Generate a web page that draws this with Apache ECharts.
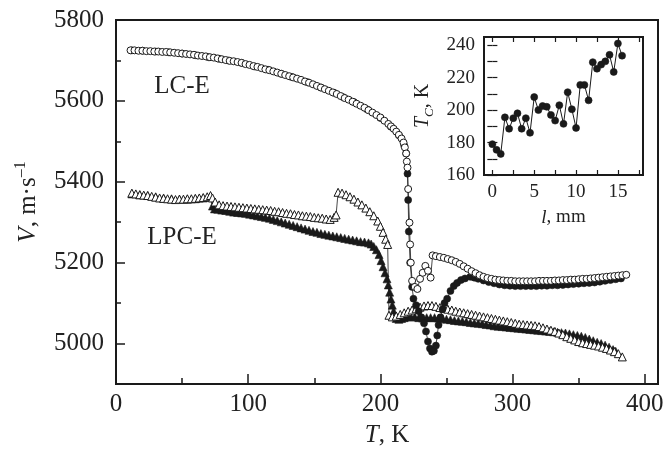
<!DOCTYPE html>
<html>
<head>
<meta charset="utf-8">
<script src="https://cdn.jsdelivr.net/npm/echarts@6/dist/echarts.min.js"></script>
<style>
  html, body { margin: 0; padding: 0; background: #fff; }
  #chart { width: 669px; height: 453px; }
</style>
</head>
<body>
<div id="chart"></div>
<script>
// tick labels
const xTicks = [0, 100, 200, 300, 400];
const xMinorTicks = [50, 150, 250, 350];
const yTicks = [5000, 5200, 5400, 5600, 5800];
const yMinorTicks = [5100, 5300, 5500, 5700];
const insetXTicks = [0, 5, 10, 15];
const insetXMinor = [0, 2.5, 5, 7.5, 10, 12.5, 15, 17.5];
const insetYTicks = [160, 180, 200, 220, 240];
const insetYMinor = [160, 170, 180, 190, 200, 210, 220, 230, 240];

// LC-E, open circles [T, V]
const lcOpen = [
  [11, 5725], [14, 5725], [17, 5724], [20, 5724], [23, 5723], [26, 5723], [29, 5722], [32, 5722],
  [35, 5721], [38, 5721], [41, 5720], [44, 5719], [47, 5718], [50, 5717], [53, 5716], [56, 5715],
  [59, 5714], [62, 5712], [65, 5711], [68, 5710], [71, 5708], [74, 5707], [77, 5705], [80, 5703],
  [83, 5701], [86, 5699], [89, 5698], [92, 5696], [95, 5694], [98, 5691], [101, 5689], [104, 5686],
  [107, 5684], [110, 5681], [113, 5678], [116, 5676], [119, 5673], [122, 5670], [125, 5667], [128, 5664],
  [131, 5661], [134, 5658], [137, 5655], [140, 5652], [143, 5648], [146, 5645], [149, 5641], [152, 5637],
  [155, 5633], [158, 5629], [161, 5625], [164, 5621], [167, 5617], [170, 5612], [173, 5607], [176, 5603],
  [179, 5598], [182, 5593], [185, 5588], [188, 5583], [191, 5577], [194, 5571], [197, 5565], [200, 5559],
  [203, 5551], [206, 5543], [208, 5537], [210, 5531], [212, 5524], [214, 5516], [216, 5507], [217.5, 5497],
  [218.5, 5485], [219.5, 5470], [220, 5450], [220.5, 5435], [221, 5382], [222, 5299], [222.5, 5245],
  [223, 5200], [224, 5155], [226, 5140], [228, 5135], [230, 5160], [232, 5175], [234, 5192], [236, 5180],
  [238, 5163], [239.5, 5218], [242, 5216], [245, 5214], [248, 5212], [251, 5209], [254, 5206], [257, 5202],
  [260, 5197], [263, 5191], [266, 5185], [269, 5179], [272, 5174], [275, 5169], [278, 5165], [281, 5162],
  [284, 5160], [287, 5158], [290, 5157], [293, 5156], [296, 5155], [299, 5155], [302, 5154], [305, 5154],
  [308, 5154], [311, 5154], [314, 5154], [317, 5154], [320, 5155], [323, 5155], [326, 5155], [329, 5155],
  [332, 5156], [335, 5156], [338, 5157], [341, 5157], [344, 5158], [347, 5158], [350, 5159], [353, 5160],
  [356, 5160], [359, 5161], [362, 5162], [365, 5163], [368, 5164], [371, 5165], [374, 5166], [377, 5167],
  [380, 5168], [383, 5169], [386, 5170]
];

// LC-E, filled circles [T, V]
const lcFilled = [
  [12, 5725], [20, 5724], [30, 5722], [40, 5720], [50, 5717], [60, 5713], [70, 5708], [78, 5704],
  [85, 5700], [95, 5694], [105, 5685], [115, 5677], [125, 5667], [133, 5659], [145, 5646], [155, 5633],
  [165, 5620], [172, 5609], [180, 5597], [190, 5579], [200, 5558], [208, 5536], [214, 5515], [218, 5490],
  [219.5, 5470], [220.5, 5420], [221, 5355], [221.5, 5277], [222.5, 5200], [224, 5140], [225, 5111],
  [227, 5095], [229, 5080], [231, 5065], [233, 5050], [234.5, 5030], [236, 5005], [237.5, 4988], [239, 4980],
  [240.5, 4982], [242, 4995], [243, 5020], [244, 5046], [245.5, 5065], [247, 5085], [248.5, 5100], [250.5, 5111],
  [253, 5130], [255.5, 5142], [258, 5150], [261, 5157], [264, 5161], [268, 5165], [271, 5163], [274, 5160],
  [278, 5156], [282, 5152], [286, 5149], [290, 5146], [294, 5144], [298, 5143], [302, 5142], [306, 5142],
  [310, 5142], [314, 5142], [318, 5142], [322, 5143], [326, 5143], [330, 5144], [334, 5144], [338, 5145],
  [342, 5146], [346, 5147], [350, 5148], [354, 5149], [358, 5150], [362, 5151], [366, 5153], [370, 5155],
  [374, 5157], [378, 5159], [382, 5161]
];

// LPC-E, open triangles [T, V]
const lpcOpen = [
  [12, 5372], [15, 5370], [18, 5368], [21, 5367], [24, 5366], [27, 5364], [30, 5362], [33, 5360],
  [36, 5359], [39, 5358], [42, 5357], [45, 5356], [48, 5357], [51, 5357], [54, 5358], [57, 5358],
  [60, 5359], [63, 5360], [66, 5361], [69, 5363], [71.5, 5366], [73, 5360], [75, 5350], [78, 5343],
  [81, 5341], [84, 5340], [87, 5339], [90, 5338], [93, 5337], [96, 5336], [99, 5335], [102, 5334],
  [105, 5333], [108, 5332], [111, 5331], [114, 5330], [117, 5329], [120, 5327], [123, 5326], [126, 5324],
  [129, 5322], [132, 5321], [135, 5319], [138, 5318], [141, 5316], [144, 5315], [147, 5314], [150, 5312],
  [153, 5311], [156, 5310], [159, 5308], [162, 5307], [165, 5312], [166.5, 5318], [168, 5374], [171, 5372],
  [174, 5368], [177, 5363], [180, 5357], [183, 5350], [186, 5343], [189, 5335], [192, 5326], [195, 5316],
  [198, 5303], [200, 5290], [202, 5275], [204, 5258], [205.5, 5245], [206.5, 5070], [209, 5066], [212, 5068],
  [215, 5072], [218, 5076], [221, 5080], [224, 5083], [227, 5086], [230, 5090], [233, 5093], [236, 5094],
  [239, 5094], [242, 5092], [245, 5089], [248, 5087], [251, 5085], [254, 5083], [257, 5080], [260, 5078],
  [263, 5076], [266, 5074], [269, 5072], [272, 5070], [275, 5068], [278, 5066], [281, 5064], [284, 5062],
  [287, 5060], [290, 5058], [293, 5056], [296, 5054], [299, 5052], [302, 5050], [305, 5048], [308, 5047],
  [311, 5046], [314, 5045], [317, 5044], [320, 5042], [323, 5039], [326, 5036], [329, 5033], [332, 5030],
  [335, 5026], [338, 5022], [341, 5017], [344, 5013], [347, 5009], [350, 5005], [353, 5002], [356, 5000],
  [359, 4998], [362, 4996], [365, 4994], [368, 4991], [371, 4988], [374, 4984], [377, 4980], [380, 4975],
  [383, 4967]
];

// LPC-E, filled triangles [T, V]
const lpcFilled = [
  [12, 5370], [18, 5368], [24, 5366], [30, 5363], [36, 5360], [42, 5358], [48, 5357], [54, 5357],
  [60, 5358], [66, 5360], [71, 5362], [73, 5340], [74.5, 5333], [77, 5332], [80, 5330], [83, 5329],
  [86, 5327], [89, 5325], [92, 5324], [95, 5323], [98, 5322], [101, 5320], [104, 5318], [107, 5316],
  [110, 5314], [113, 5312], [116, 5310], [119, 5307], [122, 5304], [125, 5301], [128, 5298], [131, 5295],
  [134, 5292], [137, 5289], [140, 5286], [143, 5283], [146, 5280], [149, 5277], [152, 5275], [155, 5272],
  [158, 5270], [161, 5268], [164, 5266], [167, 5264], [170, 5262], [173, 5260], [176, 5258], [179, 5256],
  [182, 5254], [185, 5252], [188, 5251], [191, 5249], [193, 5246], [195, 5240], [197, 5232], [199, 5220],
  [200.5, 5205], [202, 5190], [203.5, 5175], [205, 5160], [206, 5145], [207, 5127], [208, 5110], [209, 5095],
  [210, 5080], [211, 5068], [212, 5062], [214, 5060], [216, 5062], [218, 5064], [220, 5066], [223, 5066],
  [226, 5066], [229, 5064], [232, 5063], [235, 5064], [238, 5064], [241, 5064], [244, 5063], [247, 5062],
  [250, 5060], [253, 5059], [256, 5057], [259, 5056], [262, 5055], [265, 5054], [268, 5052], [271, 5051],
  [274, 5050], [277, 5049], [280, 5047], [283, 5046], [286, 5044], [289, 5043], [292, 5042], [295, 5041],
  [298, 5040], [301, 5039], [304, 5038], [307, 5037], [310, 5036], [313, 5035], [316, 5034], [319, 5033],
  [322, 5032], [325, 5031], [328, 5030], [331, 5029], [334, 5028], [337, 5027], [340, 5026], [343, 5024],
  [346, 5022], [349, 5020], [352, 5018], [355, 5015], [358, 5011], [361, 5007], [364, 5003], [367, 5000],
  [370, 4996], [373, 4991], [376, 4985], [378, 4981]
];

// inset: l (mm) vs T_C (K)
const insetL = [0, 0.5, 1, 1.5, 2, 2.5, 3, 3.5, 4, 4.5, 5, 5.5, 6, 6.5, 7, 7.5,
  8, 8.5, 9, 9.5, 10, 10.5, 11, 11.5, 12, 12.5, 13, 13.5, 14, 14.5, 15, 15.5];
const insetTc = [179, 175.5, 173, 195.5, 188.5, 195, 198, 188.5, 195, 186, 208, 200, 202.5, 202, 197, 193.5,
  203, 191.5, 211, 200.5, 189, 215.5, 215.5, 206, 229.5, 225.5, 228, 230, 234, 223.5, 241, 233.5];

const ink = '#1a1a1a';
const serif = '"Liberation Serif", "Times New Roman", serif';

const chart = echarts.init(document.getElementById('chart'));

function tickAxis(extra) {
  return Object.assign({
    type: 'value',
    axisLine: { show: false },
    splitLine: { show: false },
    axisLabel: { show: false },
    axisTick: { inside: true, length: 5, lineStyle: { color: ink, width: 1.3 } }
  }, extra);
}

const plain = v => String(v);
const openStyle = { color: '#fff', borderColor: ink, borderWidth: 1 };
const filledStyle = { color: ink, borderColor: ink, borderWidth: 0.6 };
const thinLine = { color: ink, width: 0.8 };

chart.setOption({
  animation: false,
  backgroundColor: '#fff',
  textStyle: { fontFamily: serif },
  grid: [
    { left: 116, right: 11, top: 20, bottom: 63, show: true, borderColor: ink, borderWidth: 2 },
    { left: 484, top: 37, width: 159, height: 138, show: true, borderColor: ink, borderWidth: 2, backgroundColor: '#fff' }
  ],
  xAxis: [
    tickAxis({
      gridIndex: 0, min: 0, max: 410, position: 'bottom',
      axisTick: { inside: true, length: 10, customValues: xTicks, lineStyle: { color: ink, width: 1.5 } },
      axisLabel: { show: true, customValues: xTicks, formatter: plain, fontSize: 25, color: '#222', margin: 8, fontFamily: serif },
      name: '{i|T}, K', nameLocation: 'middle', nameGap: 39,
      nameTextStyle: { fontSize: 25, color: '#222', fontFamily: serif,
        rich: { i: { fontStyle: 'italic', fontSize: 25, fontFamily: serif } } }
    }),
    tickAxis({
      gridIndex: 0, min: 0, max: 410, position: 'bottom',
      axisTick: { inside: true, length: 6, customValues: xMinorTicks, lineStyle: { color: ink, width: 1.5 } }
    }),
    tickAxis({
      gridIndex: 1, min: -1, max: 18, position: 'bottom',
      axisTick: { inside: true, length: 5, customValues: insetXMinor, lineStyle: { color: ink, width: 1.2 } },
      axisLabel: { show: true, customValues: insetXTicks, formatter: plain, fontSize: 19, color: '#222', margin: 8, fontFamily: serif },
      name: '{i|l}, mm', nameLocation: 'middle', nameGap: 33,
      nameTextStyle: { fontSize: 19, color: '#222', fontFamily: serif,
        rich: { i: { fontStyle: 'italic', fontSize: 19, fontFamily: serif } } }
    }),
    tickAxis({
      gridIndex: 1, min: -1, max: 18, position: 'top',
      axisTick: { inside: true, length: 5, customValues: insetXMinor, lineStyle: { color: ink, width: 1.2 } }
    })
  ],
  yAxis: [
    tickAxis({
      gridIndex: 0, min: 4900, max: 5800, position: 'left',
      axisTick: { inside: true, length: 9, customValues: yTicks, lineStyle: { color: ink, width: 1.5 } },
      axisLabel: { show: true, customValues: yTicks, formatter: plain, fontSize: 25, color: '#222', margin: 12, fontFamily: serif },
      name: '{i|V}, m·s{sup|–1}', nameLocation: 'middle', nameGap: 64,
      nameTextStyle: { fontSize: 25, color: '#222', fontFamily: serif, lineHeight: 30,
        rich: {
          i: { fontStyle: 'italic', fontSize: 25, lineHeight: 30, fontFamily: serif },
          sup: { fontSize: 16, lineHeight: 16, verticalAlign: 'top', fontFamily: serif }
        } }
    }),
    tickAxis({
      gridIndex: 0, min: 4900, max: 5800, position: 'left',
      axisTick: { inside: true, length: 5, customValues: yMinorTicks, lineStyle: { color: ink, width: 1.5 } }
    }),
    tickAxis({
      gridIndex: 1, min: 160, max: 245, position: 'left',
      axisTick: { inside: true, length: 5, customValues: insetYMinor, lineStyle: { color: ink, width: 1.2 } },
      axisLabel: { show: true, customValues: insetYTicks, formatter: plain, fontSize: 19, color: '#222', margin: 9, fontFamily: serif },
      name: '{i|T}{sub|C}, K', nameLocation: 'middle', nameGap: 48,
      nameTextStyle: { fontSize: 20, color: '#222', fontFamily: serif, lineHeight: 26,
        rich: {
          i: { fontStyle: 'italic', fontSize: 20, lineHeight: 26, fontFamily: serif },
          sub: { fontStyle: 'italic', fontSize: 13, lineHeight: 13, verticalAlign: 'bottom', fontFamily: serif }
        } }
    }),
    tickAxis({
      gridIndex: 1, min: 160, max: 245, position: 'right',
      axisTick: { inside: true, length: 5, customValues: insetYMinor, lineStyle: { color: ink, width: 1.2 } }
    })
  ],
  series: [
    { name: 'LPC-E cooling', type: 'line', xAxisIndex: 0, yAxisIndex: 0, data: lpcFilled,
      symbol: 'triangle', symbolSize: 8, itemStyle: filledStyle, lineStyle: thinLine },
    { name: 'LPC-E heating', type: 'line', xAxisIndex: 0, yAxisIndex: 0, data: lpcOpen,
      symbol: 'triangle', symbolSize: 8, itemStyle: openStyle, lineStyle: thinLine },
    { name: 'LC-E cooling', type: 'line', xAxisIndex: 0, yAxisIndex: 0, data: lcFilled,
      symbol: 'circle', symbolSize: 7, itemStyle: filledStyle, lineStyle: thinLine },
    { name: 'LC-E heating', type: 'line', xAxisIndex: 0, yAxisIndex: 0, data: lcOpen,
      symbol: 'circle', symbolSize: 7, itemStyle: openStyle, lineStyle: thinLine },
    { name: 'Tc', type: 'line', xAxisIndex: 2, yAxisIndex: 2,
      data: insetL.map((l, i) => [l, insetTc[i]]),
      symbol: 'circle', symbolSize: 7, itemStyle: filledStyle, lineStyle: { color: ink, width: 1 } }
  ],
  graphic: [
    { type: 'text', x: 182, y: 86,
      style: { text: 'LC-E', font: '25px "Liberation Serif"', fill: '#222', align: 'center', verticalAlign: 'middle' } },
    { type: 'text', x: 182, y: 237,
      style: { text: 'LPC-E', font: '25px "Liberation Serif"', fill: '#222', align: 'center', verticalAlign: 'middle' } }
  ]
});
</script>
</body>
</html>
